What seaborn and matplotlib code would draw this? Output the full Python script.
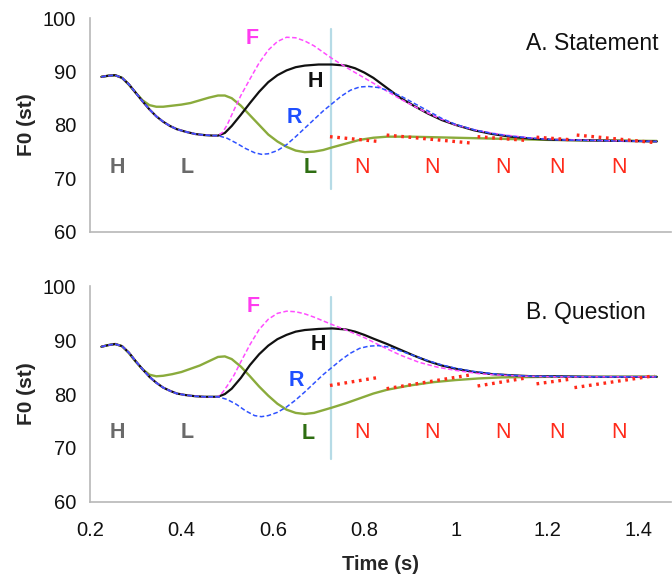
import matplotlib
matplotlib.use("Agg")
import matplotlib.pyplot as plt
import numpy as np
import pandas as pd
import seaborn as sns

sns.set_style("white")
plt.rcParams["font.family"] = ["Liberation Sans", "DejaVu Sans"]

# ---------------- Statement (panel A) ----------------
# shared pre-nuclear stretch (H L) followed by the four nuclear tones
a_pre_t = [0.225, 0.24, 0.255, 0.27, 0.285, 0.30, 0.315, 0.33, 0.345, 0.36,
           0.375, 0.39, 0.41, 0.43, 0.45, 0.47, 0.48]
a_pre_f0 = [89.0, 89.2, 89.3, 88.8, 87.6, 86.0, 84.4, 82.9, 81.6, 80.6,
            79.8, 79.2, 78.7, 78.3, 78.1, 78.0, 78.0]

a_H_t = [0.495, 0.51, 0.53, 0.55, 0.57, 0.59, 0.61, 0.63, 0.65, 0.67, 0.70,
         0.73, 0.76, 0.78, 0.80, 0.82, 0.85, 0.88, 0.91, 0.94, 0.97, 1.00,
         1.04, 1.08, 1.12, 1.17, 1.22, 1.30, 1.37, 1.44]
a_H_f0 = [78.5, 79.8, 81.9, 84.1, 86.2, 88.0, 89.3, 90.2, 90.8, 91.1, 91.3,
          91.3, 91.1, 90.6, 89.8, 88.8, 86.9, 85.0, 83.5, 82.1, 80.9, 80.0,
          79.0, 78.3, 77.8, 77.4, 77.2, 77.1, 77.0, 76.9]

a_F_t = [0.49, 0.50, 0.515, 0.53, 0.55, 0.57, 0.59, 0.61, 0.63, 0.65, 0.67,
         0.69, 0.71, 0.73, 0.76, 0.80, 0.84, 0.88, 0.92, 0.96, 1.00, 1.05,
         1.10, 1.16, 1.22, 1.30, 1.37, 1.44]
a_F_f0 = [78.6, 80.0, 82.8, 85.5, 88.6, 91.6, 94.0, 95.6, 96.4, 96.3, 95.7,
          94.8, 93.6, 92.4, 90.8, 88.8, 86.8, 84.8, 83.0, 81.4, 80.0, 78.9,
          78.2, 77.6, 77.3, 77.1, 77.0, 76.9]

a_R_t = [0.50, 0.52, 0.54, 0.56, 0.575, 0.59, 0.61, 0.63, 0.65, 0.67, 0.69,
         0.71, 0.73, 0.75, 0.77, 0.79, 0.81, 0.83, 0.85, 0.88, 0.91, 0.94,
         0.97, 1.00, 1.04, 1.08, 1.12, 1.17, 1.22, 1.30, 1.37, 1.44]
a_R_f0 = [77.5, 76.6, 75.6, 74.8, 74.5, 74.6, 75.2, 76.3, 77.8, 79.4, 81.0,
          82.6, 84.0, 85.4, 86.5, 87.1, 87.2, 87.0, 86.5, 85.4, 84.0, 82.6,
          81.2, 80.1, 79.1, 78.4, 77.9, 77.5, 77.2, 77.1, 77.0, 76.9]

a_L_t = [0.225, 0.24, 0.255, 0.27, 0.285, 0.30, 0.315, 0.33, 0.345, 0.36,
         0.38, 0.40, 0.42, 0.44, 0.46, 0.48, 0.495, 0.51, 0.53, 0.55, 0.57,
         0.59, 0.61, 0.63, 0.65, 0.67, 0.69, 0.71, 0.73, 0.76, 0.79, 0.82,
         0.85, 0.90, 0.95, 1.00, 1.10, 1.20, 1.30, 1.44]
a_L_f0 = [89.0, 89.2, 89.3, 88.8, 87.5, 86.0, 84.6, 83.7, 83.4, 83.4,
          83.6, 83.8, 84.1, 84.6, 85.1, 85.5, 85.5, 85.0, 83.6, 81.8, 80.0,
          78.2, 76.9, 75.9, 75.2, 74.9, 75.0, 75.3, 75.8, 76.5, 77.2, 77.6,
          77.8, 77.8, 77.7, 77.6, 77.4, 77.2, 77.1, 77.0]

# post-nuclear N stylisations: (t start, t end, f0 start, f0 end)
a_N_t0 = [0.725, 0.849, 1.048, 1.177, 1.265]
a_N_t1 = [0.832, 1.035, 1.155, 1.256, 1.435]
a_N_f0 = [77.8, 78.1, 77.8, 77.7, 78.1]
a_N_f1 = [76.9, 76.6, 77.1, 77.2, 76.7]

# ---------------- Question (panel B) ----------------
b_pre_t = [0.225, 0.24, 0.255, 0.27, 0.285, 0.30, 0.315, 0.33, 0.345, 0.36,
           0.375, 0.39, 0.41, 0.43, 0.45, 0.47, 0.48]
b_pre_f0 = [88.8, 89.1, 89.3, 88.9, 87.7, 86.1, 84.6, 83.2, 82.1, 81.2,
            80.6, 80.1, 79.8, 79.6, 79.5, 79.5, 79.5]

b_H_t = [0.495, 0.51, 0.53, 0.55, 0.57, 0.59, 0.61, 0.63, 0.65, 0.67, 0.70,
         0.73, 0.76, 0.78, 0.80, 0.82, 0.85, 0.88, 0.91, 0.94, 0.97, 1.00,
         1.04, 1.08, 1.12, 1.17, 1.22, 1.30, 1.37, 1.44]
b_H_f0 = [80.0, 81.0, 83.0, 85.4, 87.4, 89.0, 90.2, 91.0, 91.6, 91.9, 92.1,
          92.2, 92.0, 91.6, 91.0, 90.3, 89.3, 88.2, 87.1, 86.1, 85.3, 84.7,
          84.1, 83.7, 83.5, 83.3, 83.3, 83.2, 83.2, 83.2]

b_F_t = [0.49, 0.50, 0.515, 0.53, 0.55, 0.57, 0.59, 0.61, 0.63, 0.65, 0.67,
         0.69, 0.71, 0.73, 0.76, 0.80, 0.84, 0.88, 0.92, 0.96, 1.00, 1.05,
         1.10, 1.16, 1.22, 1.30, 1.37, 1.44]
b_F_f0 = [80.3, 81.5, 83.5, 86.0, 89.2, 92.0, 93.9, 95.0, 95.4, 95.3, 94.9,
          94.3, 93.6, 92.9, 91.9, 90.5, 88.8, 87.2, 85.9, 85.0, 84.4, 83.8,
          83.5, 83.3, 83.2, 83.2, 83.2, 83.2]

b_R_t = [0.50, 0.52, 0.54, 0.56, 0.575, 0.59, 0.61, 0.63, 0.65, 0.67, 0.69,
         0.71, 0.73, 0.75, 0.77, 0.79, 0.81, 0.83, 0.85, 0.88, 0.91, 0.94,
         0.97, 1.00, 1.04, 1.08, 1.12, 1.17, 1.22, 1.30, 1.37, 1.44]
b_R_f0 = [79.0, 78.1, 76.9, 76.0, 75.8, 76.0, 76.6, 77.6, 78.9, 80.4, 82.0,
          83.6, 85.0, 86.4, 87.6, 88.5, 88.9, 89.0, 88.8, 88.0, 87.1, 86.2,
          85.4, 84.8, 84.2, 83.8, 83.5, 83.3, 83.3, 83.2, 83.2, 83.2]

b_L_t = [0.225, 0.24, 0.255, 0.27, 0.285, 0.30, 0.315, 0.33, 0.345, 0.36,
         0.38, 0.40, 0.42, 0.44, 0.46, 0.48, 0.495, 0.51, 0.53, 0.55, 0.57,
         0.59, 0.61, 0.63, 0.65, 0.67, 0.69, 0.71, 0.73, 0.76, 0.79, 0.82,
         0.85, 0.90, 0.95, 1.00, 1.05, 1.10, 1.20, 1.30, 1.44]
b_L_f0 = [88.8, 89.1, 89.3, 88.9, 87.6, 86.0, 84.6, 83.6, 83.3, 83.4,
          83.7, 84.1, 84.7, 85.3, 86.1, 86.9, 87.0, 86.5, 85.1, 83.3, 81.4,
          79.7, 78.2, 77.1, 76.5, 76.3, 76.5, 77.0, 77.5, 78.3, 79.2, 80.1,
          80.8, 81.6, 82.2, 82.6, 82.9, 83.1, 83.2, 83.2, 83.2]

b_N_t0 = [0.725, 0.849, 1.048, 1.177, 1.260]
b_N_t1 = [0.832, 1.035, 1.155, 1.254, 1.435]
b_N_f0 = [81.6, 81.0, 81.5, 81.9, 81.2]
b_N_f1 = [83.1, 83.6, 83.0, 82.8, 83.4]

# tone labels
x_labels_pre = [0.259, 0.412]
pre_tones = ["H", "L"]
nuc_tones = ["F", "H", "R", "L"]
a_nuc_xy = [(0.554, 96.2), (0.692, 88.2), (0.648, 81.3), (0.681, 72.0)]
b_nuc_xy = [(0.557, 96.3), (0.699, 89.2), (0.652, 82.6), (0.677, 72.7)]
n_label_x = [0.795, 0.948, 1.103, 1.221, 1.358]
boundary_t = 0.728

GREEN = "#8aab3c"
BLACK = "#111111"
PINK = "#ff4dff"
BLUE = "#2f52ff"
RED = "#ff2a1a"
TONE_COLORS = {"F": "#ff3cf0", "H": "#111111", "R": "#1f4fff", "L": "#2e6e12"}
TONE_SIZE = 15.5
TICK_SIZE = 14.5


def draw_panel(ax, pre_t, pre_f0, H, F, R, L, N, nuc_xy, lab_y, title):
    curves = [
        ("L", L[0], L[1], GREEN, "-", 1.7),
        ("H", pre_t + H[0], pre_f0 + H[1], BLACK, "-", 1.6),
        ("F", pre_t + F[0], pre_f0 + F[1], PINK, (0, (3, 1.6)), 1.1),
        ("R", pre_t + R[0], pre_f0 + R[1], BLUE, (0, (3, 1.6)), 1.1),
    ]
    for name, t, f0, col, ls, lw in curves:
        df = pd.DataFrame({"t": t, "f0": f0})
        sns.lineplot(data=df, x="t", y="f0", ax=ax, color=col, lw=lw,
                     linestyle=ls, sort=False, estimator=None)
    for t0, t1, y0, y1 in zip(*N):
        df = pd.DataFrame({"t": [t0, t1], "f0": [y0, y1]})
        sns.lineplot(data=df, x="t", y="f0", ax=ax, color=RED, lw=2.4,
                     linestyle=(0, (0.8, 1.4)), sort=False, estimator=None)
    ax.plot([boundary_t, boundary_t], [68, 98], color="#b6dbe6", lw=1.6,
            zorder=0)

    for x, tone in zip(x_labels_pre, pre_tones):
        ax.text(x, lab_y, tone, color="#6a6a6a", fontsize=TONE_SIZE,
                fontweight="bold", ha="center", va="center")
    for (x, y), tone in zip(nuc_xy, nuc_tones):
        ax.text(x, y, tone, color=TONE_COLORS[tone], fontsize=TONE_SIZE,
                fontweight="bold", ha="center", va="center")
    for x in n_label_x:
        ax.text(x, lab_y, "N", color=RED, fontsize=TONE_SIZE, ha="center",
                va="center")
    ax.text(1.155, 95.2, title, fontsize=16.5, ha="left", va="center",
            color="#111111")

    ax.set_xlim(0.2, 1.472)
    ax.set_ylim(60, 100)
    ax.set_yticks([60, 70, 80, 90, 100])
    ax.set_xticks([0.2, 0.4, 0.6, 0.8, 1.0, 1.2, 1.4])
    ax.set_ylabel("F0 (st)", fontsize=15, fontweight="bold", labelpad=5)
    for side in ("top", "right"):
        ax.spines[side].set_visible(False)
    for side in ("left", "bottom"):
        ax.spines[side].set_color("#b8b8b8")
        ax.spines[side].set_linewidth(1.2)
    ax.tick_params(axis="both", direction="out", length=5, width=1.1,
                   color="#b8b8b8", labelsize=TICK_SIZE, labelcolor="#111111",
                   pad=5)
    ax.tick_params(axis="x", pad=9)


fig = plt.figure(figsize=(6.72, 5.81), dpi=100)
ax_a = fig.add_axes([0.134, 0.601, 0.865, 0.368])
ax_b = fig.add_axes([0.134, 0.1365, 0.865, 0.3705])

draw_panel(ax_a, a_pre_t, a_pre_f0, (a_H_t, a_H_f0), (a_F_t, a_F_f0),
           (a_R_t, a_R_f0), (a_L_t, a_L_f0),
           (a_N_t0, a_N_t1, a_N_f0, a_N_f1), a_nuc_xy, 72.1, "A. Statement")
draw_panel(ax_b, b_pre_t, b_pre_f0, (b_H_t, b_H_f0), (b_F_t, b_F_f0),
           (b_R_t, b_R_f0), (b_L_t, b_L_f0),
           (b_N_t0, b_N_t1, b_N_f0, b_N_f1), b_nuc_xy, 72.8, "B. Question")

ax_a.set_xlabel("")
ax_a.set_xticklabels([])
ax_b.set_xticklabels(["0.2", "0.4", "0.6", "0.8", "1", "1.2", "1.4"])
ax_b.set_xlabel("Time (s)", fontsize=14.5, fontweight="bold", labelpad=11)

fig.savefig("out.png", dpi=100)
